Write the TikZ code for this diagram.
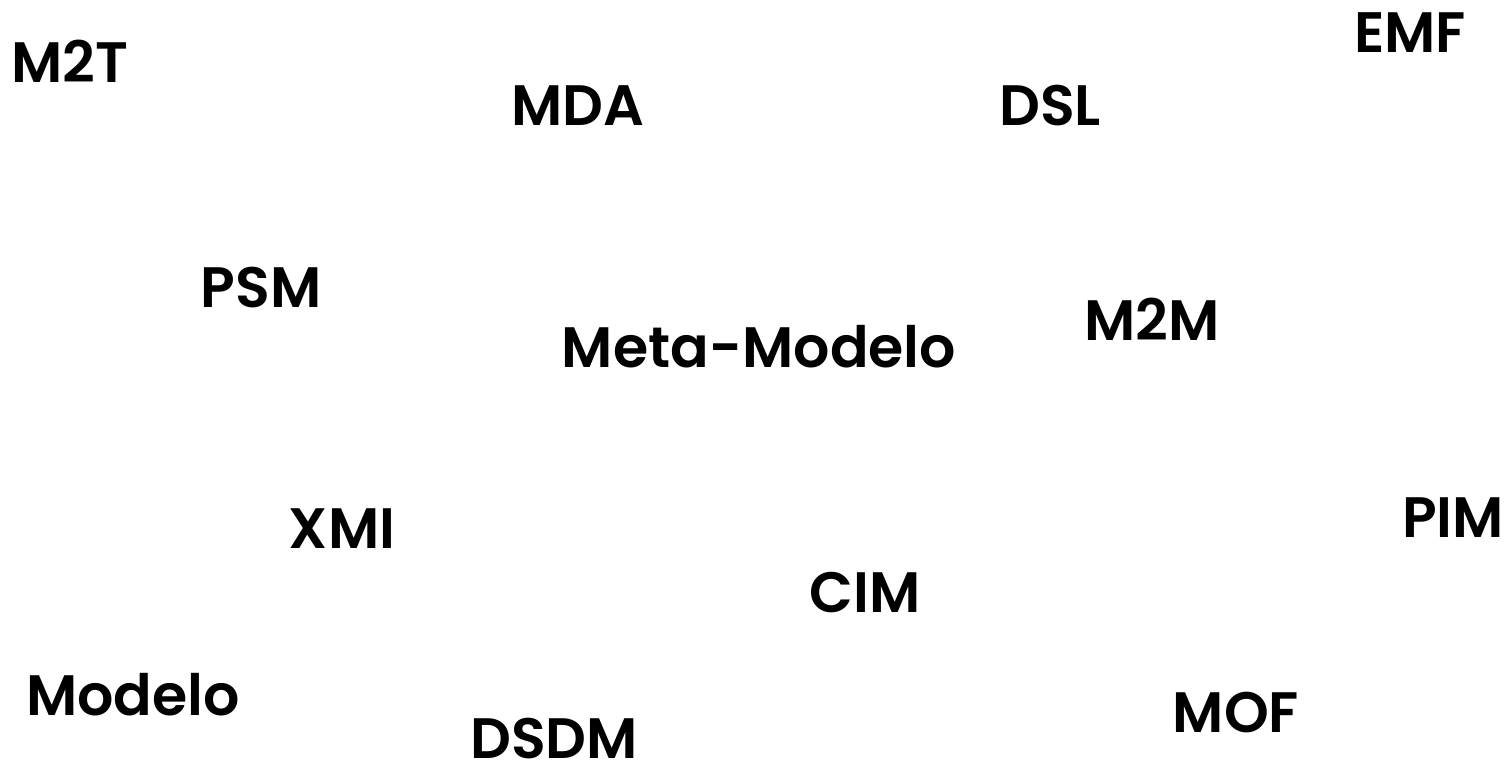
\documentclass[tikz,border=0pt]{standalone}
\usepackage{fontspec}
\setmainfont{Poppins}[UprightFont=* SemiBold, BoldFont=* Bold]
\begin{document}
\begin{tikzpicture}[x=1pt,y=-1pt,
  term/.style={inner sep=0pt, anchor=base, font=\fontsize{57}{60}\selectfont}]
\useasboundingbox (0,0) rectangle (1512,765);
\node[term] (m2t)  at (70,83)   {M2T};
\node[term] (emf)  at (1410,53) {EMF};
\node[term] (mda)  at (578,126) {MDA};
\node[term] (dsl)  at (1050,125){DSL};
\node[term] (psm)  at (261,307) {PSM};
\node[term] (m2m)  at (1152,340){M2M};
\node[term] (meta) at (759,367) {Meta-Modelo};
\node[term] (xmi)  at (342,548) {XMI};
\node[term] (pim)  at (1453,537){PIM};
\node[term] (cim)  at (865,612) {CIM};
\node[term] (mod)  at (133,715) {Modelo};
\node[term] (mof)  at (1236,732){MOF};
\node[term] (dsdm) at (554,758) {DSDM};
\end{tikzpicture}
\end{document}
